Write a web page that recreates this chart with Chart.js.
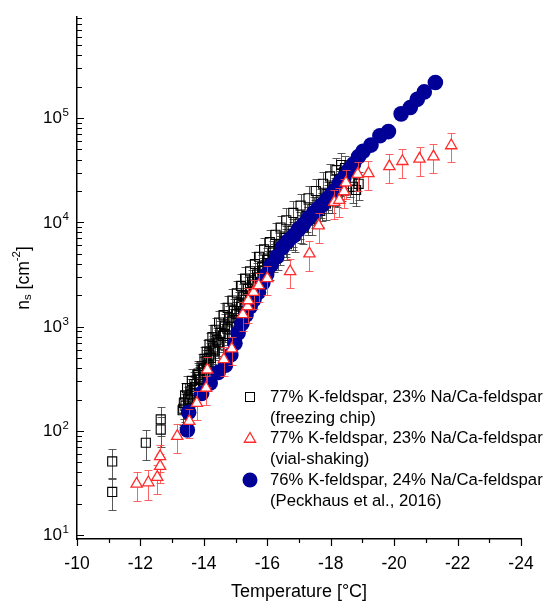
<!DOCTYPE html>
<html>
<head>
<meta charset="utf-8">
<script src="https://cdn.jsdelivr.net/npm/chart.js@4.4.1/dist/chart.umd.min.js"></script>
<style>
  html, body { margin: 0; padding: 0; background: #fff; }
  #wrap { width: 546px; height: 603px; position: relative; }
</style>
</head>
<body>
<div id="wrap"><canvas id="chart"></canvas></div>
<script>
// --- freezing chip (black squares): sparse points, four tracks through the dense band, grey tail ---
const chipT = [
  -11.11, -11.11, -12.17, -12.64, -12.64, -13.35, -13.81,
  -13.33, -13.37, -13.41, -13.47, -13.62, -13.83, -13.93, -14.02, -14.09, -14.18, -14.27, -14.37, -14.48, -14.62, -14.75, -14.9, -15.04, -15.17, -15.3, -15.46, -15.61, -15.74, -15.9, -16.08, -16.26, -16.42, -16.6, -16.82, -17.05, -17.3, -17.53, -17.76, -17.98, -18.18, -18.33,
  -13.42, -13.5, -13.58, -13.7, -13.86, -13.98, -14.08, -14.18, -14.29, -14.4, -14.52, -14.66, -14.8, -14.95, -15.1, -15.24, -15.38, -15.52, -15.68, -15.84, -16.0, -16.18, -16.38, -16.58, -16.8, -17.02, -17.24, -17.46, -17.68, -17.9, -18.1, -18.28, -18.42,
  -13.6, -13.72, -13.88, -14.0, -14.12, -14.22, -14.34, -14.47, -14.6, -14.74, -14.88, -15.02, -15.17, -15.32, -15.47, -15.56, -15.7, -15.86, -16.02, -16.2, -16.4, -16.6, -16.82, -17.05, -17.28, -17.5, -17.72, -17.93, -18.12, -18.3, -18.44,
  -13.55, -13.7, -13.85, -14.0, -14.15, -14.3, -14.45, -14.65, -14.85, -15.0, -15.15, -15.3, -15.45, -15.62, -15.77, -15.9, -16.09, -16.35, -16.62, -16.88, -17.14, -17.4, -17.67, -17.85, -18.04, -18.2, -18.35, -18.45,
  -18.45, -18.55, -18.62, -18.7, -18.8, -18.88
];
const chipN = [
  51, 26, 77, 103, 129, 163, 343,
  158, 186, 219, 257, 302, 355, 417, 490, 575, 676, 794, 933, 1096, 1288, 1514, 1778, 2089, 2455, 2884, 3388, 3981, 4677, 5495, 6457, 7586, 8913, 10470, 12300, 14450, 16980, 19950, 23440, 27540, 31620, 35480,
  174, 204, 240, 282, 331, 389, 457, 537, 631, 741, 871, 1023, 1202, 1413, 1660, 1950, 2291, 2692, 3162, 3715, 4365, 5129, 6026, 7079, 8318, 9772, 11480, 13490, 15850, 18620, 21880, 25700, 30200,
  224, 263, 309, 363, 427, 501, 589, 692, 813, 955, 1122, 1318, 1549, 1820, 2138, 2512, 2951, 3467, 4074, 4786, 5623, 6607, 7762, 9120, 10720, 12590, 14790, 17380, 20420, 23990, 28180,
  200, 251, 316, 398, 501, 603, 708, 851, 1000, 1202, 1413, 1698, 1995, 2512, 2951, 3388, 3981, 5012, 6166, 7413, 8913, 10720, 12880, 15140, 17380, 19950, 22910, 26300,
  33100, 30200, 25100, 21900, 20400, 23400
];
const chipErr = [
  16, 8.5, 24, 33, 40, 50, 100,
  48, 56, 66, 77, 90, 110, 125, 150, 170, 200, 240, 280, 330, 390, 450, 530, 630, 740, 870, 1000, 1200, 1400, 1650, 1950, 2300, 2700, 3100, 3700, 4300, 5100, 6000, 7000, 8300, 9500, 10600,
  52, 61, 72, 85, 100, 117, 137, 160, 190, 220, 260, 310, 360, 420, 500, 590, 690, 810, 950, 1100, 1300, 1500, 1800, 2100, 2500, 2900, 3400, 4000, 4800, 5600, 6600, 7700, 9100,
  67, 79, 93, 110, 128, 150, 177, 210, 245, 290, 340, 400, 465, 550, 640, 750, 890, 1040, 1220, 1440, 1690, 1980, 2330, 2740, 3200, 3800, 4400, 5200, 6100, 7200, 8500,
  60, 75, 95, 120, 150, 180, 210, 255, 300, 360, 420, 510, 600, 750, 890, 1000, 1200, 1500, 1850, 2200, 2700, 3200, 3900, 4500, 5200, 6000, 6900, 7900,
  9900, 9100, 7500, 6600, 6100, 7000
];

// --- vial-shaking (red triangles) ---
const vialT = [-11.88, -12.25, -12.53, -12.62, -12.62, -13.16, -13.54, -13.78, -14.07, -14.11, -14.63, -14.88, -15.23, -15.38, -15.4, -15.57, -15.73, -16.0, -16.72, -17.33, -17.62, -18.11, -18.27, -18.42, -18.48, -18.85, -19.19, -19.85, -20.26, -20.8, -21.24, -21.8];
const vialN = [31, 32, 36, 46, 57, 89, 124, 185, 258, 386, 485, 614, 1310, 1560, 1780, 2140, 2480, 2900, 3380, 5000, 9300, 15600, 16300, 19800, 24000, 29000, 29500, 34400, 38500, 40600, 42700, 54500];
const vialErr = [9.5, 10, 11, 14, 17, 27, 38, 57, 80, 120, 150, 190, 400, 480, 550, 660, 760, 900, 1050, 1550, 2900, 4800, 5000, 6100, 7400, 9000, 9100, 10600, 11900, 12500, 13200, 16800];

// --- Peckhaus et al. 2016 (blue circles) ---
const peckT = [-13.48, -13.52, -13.93, -14.2, -14.45, -14.68, -14.85, -14.98, -15.08, -15.2, -15.33, -15.46, -15.58, -15.72, -15.86, -15.98, -16.12, -16.3, -16.48, -16.65, -16.82, -16.98, -17.14, -17.3, -17.46, -17.6, -17.74, -17.88, -18.02, -18.14, -18.28, -18.42, -18.56, -18.72, -18.88, -19.02, -19.27, -19.55, -19.82, -20.22, -20.51, -20.73, -20.95, -21.3];
const peckN = [102, 151, 229, 288, 363, 427, 537, 692, 871, 1070, 1290, 1550, 1820, 2140, 2630, 3160, 3890, 4680, 5750, 6610, 7410, 8510, 9550, 10960, 12300, 13500, 14800, 16600, 18600, 20400, 24000, 26900, 31600, 36300, 42700, 47900, 55000, 67600, 74100, 109600, 126000, 151000, 178000, 219000];

const yDecades = [1, 2, 3, 4, 5];
const legendLines = [
  ['77% K-feldspar, 23% Na/Ca-feldspar', '(freezing chip)'],
  ['77% K-feldspar, 23% Na/Ca-feldspar', '(vial-shaking)'],
  ['76% K-feldspar, 24% Na/Ca-feldspar', '(Peckhaus et al., 2016)']
];
const xTitle = 'Temperature [°C]';

const FONT = '"Liberation Sans", Arial, Helvetica, sans-serif';
const RED = '#ff2a2a';
const NAVY = '#000096';
const CHIP = '#000';

function toPoints(xs, ys) {
  return xs.map((x, i) => ({ x: x, y: ys[i] }));
}

function isDecade(v) {
  const e = Math.log10(v);
  return Math.abs(e - Math.round(e)) < 1e-9;
}

// error bars, drawn just before their own dataset
const errorBars = {
  id: 'errorBars',
  beforeDatasetDraw(chart, args) {
    const ds = chart.data.datasets[args.index];
    if (!ds.errors) return;
    const ctx = chart.ctx;
    const ys = chart.scales.y;
    const a = chart.chartArea;
    ctx.save();
    ctx.beginPath();
    ctx.rect(a.left, a.top, a.right - a.left, a.bottom - a.top);
    ctx.clip();
    ctx.strokeStyle = ds.errorColor;
    ctx.lineWidth = 1;
    args.meta.data.forEach((pt, i) => {
      const v = ds.data[i].y;
      const e = ds.errors[i];
      const yT = Math.round(ys.getPixelForValue(v + e)) + 0.5;
      const yB = Math.round(ys.getPixelForValue(Math.max(v - e, 0.01))) + 0.5;
      const x = Math.round(pt.x) + 0.5;
      ctx.beginPath();
      ctx.moveTo(x, yT); ctx.lineTo(x, yB);
      ctx.moveTo(x - 4, yT); ctx.lineTo(x + 4, yT);
      ctx.moveTo(x - 4, yB); ctx.lineTo(x + 4, yB);
      ctx.stroke();
    });
    ctx.restore();
  }
};

// tick marks (y inward, x outward), y tick labels, axis titles, legend
const decorations = {
  id: 'decorations',
  afterDraw(chart) {
    const ctx = chart.ctx;
    const a = chart.chartArea;
    const xScale = chart.scales.x;
    const yScale = chart.scales.y;
    ctx.save();

    // tick marks
    ctx.strokeStyle = '#000';
    ctx.lineWidth = 1.2;
    ctx.beginPath();
    xScale.ticks.forEach(t => {
      const px = Math.round(xScale.getPixelForValue(t.value)) + 0.5;
      const len = t.value % 2 === 0 ? 7 : 4;
      ctx.moveTo(px, a.bottom); ctx.lineTo(px, a.bottom + len);
    });
    yScale.ticks.forEach(t => {
      const py = Math.round(yScale.getPixelForValue(t.value)) + 0.5;
      const len = isDecade(t.value) ? 7 : 5;
      ctx.moveTo(a.left, py); ctx.lineTo(a.left + len, py);
    });
    ctx.stroke();

    ctx.fillStyle = '#000';
    // y tick labels 10^n
    ctx.textBaseline = 'middle';
    yDecades.forEach(d => {
      const y = yScale.getPixelForValue(Math.pow(10, d));
      ctx.font = '17px ' + FONT;
      ctx.textAlign = 'right';
      ctx.fillText('10', 62, y + 0.5);
      ctx.font = '11.5px ' + FONT;
      ctx.textAlign = 'left';
      ctx.fillText(String(d), 62.5, y - 5);
    });

    // x title
    ctx.font = '18px ' + FONT;
    ctx.textAlign = 'center';
    ctx.fillText(xTitle, (a.left + a.right) / 2, 592);

    // y title: n_s [cm^-2]
    const big = '17.5px ' + FONT, small = '11.5px ' + FONT;
    const parts = [
      { t: 'n', f: big, dy: 0 },
      { t: 's', f: small, dy: 4 },
      { t: ' [cm', f: big, dy: 0 },
      { t: '-2', f: small, dy: -7 },
      { t: ']', f: big, dy: 0 }
    ];
    let total = 0;
    parts.forEach(p => { ctx.font = p.f; p.w = ctx.measureText(p.t).width; total += p.w; });
    ctx.translate(24, (a.top + a.bottom) / 2);
    ctx.rotate(-Math.PI / 2);
    ctx.textAlign = 'left';
    let cx = -total / 2;
    parts.forEach(p => { ctx.font = p.f; ctx.fillText(p.t, cx, p.dy); cx += p.w; });
    ctx.setTransform(1, 0, 0, 1, 0, 0);

    // legend
    const symX = 250, textX = 270, rows = [397, 438, 480], lh = 21;
    ctx.font = '16.7px ' + FONT;
    ctx.textAlign = 'left';
    rows.forEach((y, k) => {
      legendLines[k].forEach((s, j) => ctx.fillText(s, textX, y + j * lh));
    });
    // square
    ctx.strokeStyle = CHIP; ctx.lineWidth = 1;
    ctx.strokeRect(symX - 4.5, rows[0] - 4.5, 9, 9);
    // triangle
    const r = 6.5, ty = rows[1] + 1;
    ctx.beginPath();
    for (let k = 0; k < 3; k++) {
      const ang = k * 2 * Math.PI / 3;
      const px = symX + Math.sin(ang) * r, py = ty - Math.cos(ang) * r;
      if (k === 0) ctx.moveTo(px, py); else ctx.lineTo(px, py);
    }
    ctx.closePath();
    ctx.fillStyle = '#fff'; ctx.fill();
    ctx.strokeStyle = RED; ctx.lineWidth = 1.3; ctx.stroke();
    // circle
    ctx.beginPath();
    ctx.arc(symX, rows[2], 7.5, 0, 2 * Math.PI);
    ctx.fillStyle = NAVY; ctx.fill();
    ctx.restore();
  }
};

new Chart(document.getElementById('chart'), {
  type: 'scatter',
  data: {
    datasets: [
      {
        label: legendLines[1].join(' '),
        data: toPoints(vialT, vialN),
        errors: vialErr,
        errorColor: 'rgba(255,70,70,0.85)',
        pointStyle: 'triangle',
        pointRadius: 6.5,
        borderWidth: 1.3,
        borderColor: RED,
        backgroundColor: '#fff',
        order: 1
      },
      {
        label: legendLines[2].join(' '),
        data: toPoints(peckT, peckN),
        pointStyle: 'circle',
        pointRadius: 7.8,
        borderWidth: 0,
        borderColor: NAVY,
        backgroundColor: NAVY,
        order: 2
      },
      {
        label: legendLines[0].join(' '),
        data: toPoints(chipT, chipN),
        errors: chipErr,
        errorColor: 'rgba(60,60,60,0.85)',
        pointStyle: 'rect',
        pointRadius: 6.4,
        borderWidth: 1.1,
        borderColor: CHIP,
        backgroundColor: 'rgba(0,0,0,0)',
        order: 3
      }
    ]
  },
  options: {
    responsive: true,
    maintainAspectRatio: false,
    animation: false,
    devicePixelRatio: 1,
    layout: { padding: { left: 0, right: 25, top: 17, bottom: 0 } },
    plugins: {
      legend: { display: false },
      tooltip: { enabled: false }
    },
    scales: {
      x: {
        type: 'linear',
        min: -24,
        max: -10,
        reverse: true,
        afterFit: s => { s.height = 64; },
        border: { display: true, color: '#000', width: 1.5 },
        grid: { display: true, drawOnChartArea: false, drawTicks: true, tickLength: 6, tickColor: 'rgba(0,0,0,0)' },
        ticks: {
          stepSize: 1,
          autoSkip: false,
          maxRotation: 0,
          padding: 9,
          color: '#000',
          font: { family: FONT, size: 17.5 },
          callback: v => (v % 2 === 0 ? String(v) : '')
        }
      },
      y: {
        type: 'logarithmic',
        min: 9.2,
        max: 9.3e5,
        afterFit: s => { s.width = 77; },
        afterBuildTicks: s => {
          s.ticks = s.ticks.filter(t => {
            const m = t.value / Math.pow(10, Math.floor(Math.log10(t.value) + 1e-9));
            return Math.abs(m - Math.round(m)) < 1e-6;
          });
        },
        border: { display: true, color: '#000', width: 1.5 },
        grid: { display: false },
        ticks: {
          autoSkip: false,
          callback: () => ''
        }
      }
    }
  },
  plugins: [errorBars, decorations]
});
</script>
</body>
</html>
